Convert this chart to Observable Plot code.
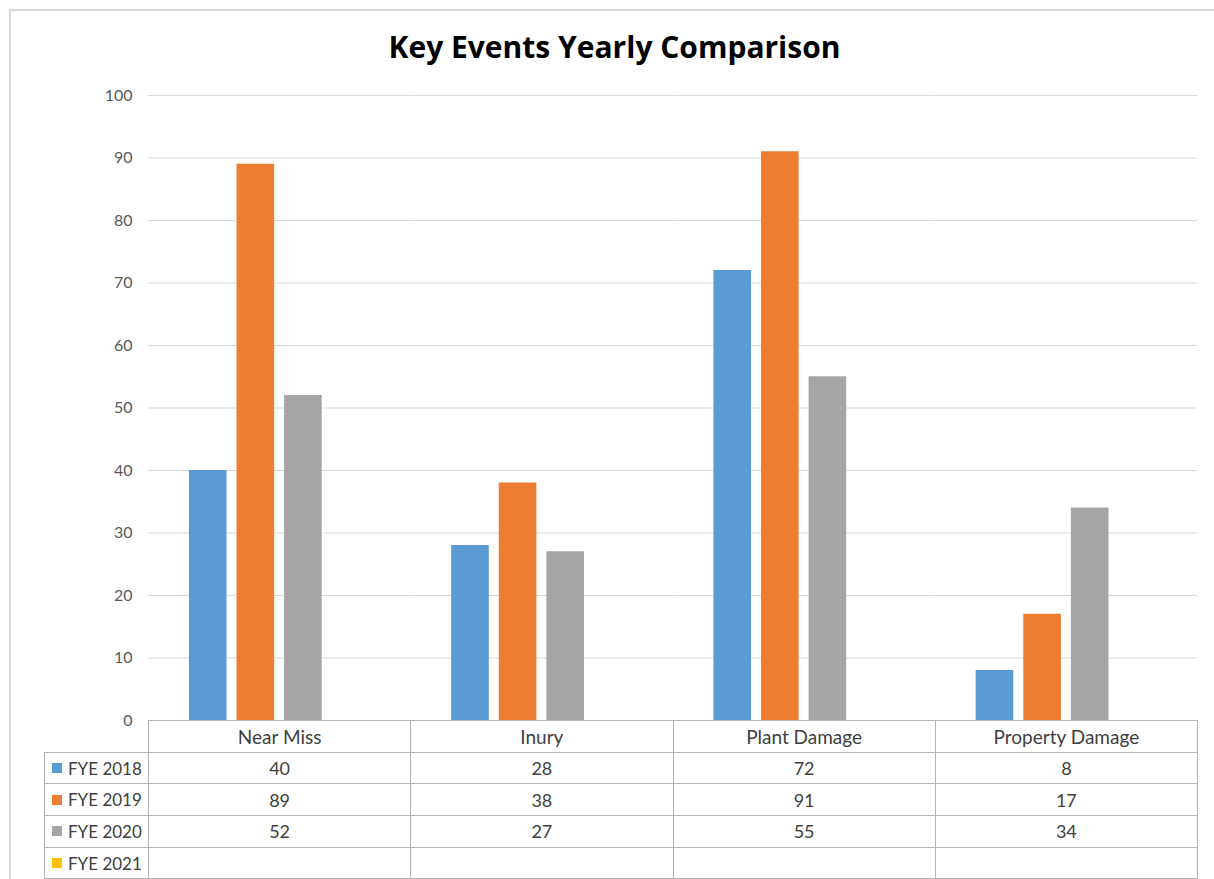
<!DOCTYPE html>
<html>
<head>
<meta charset="utf-8">
<script src="https://cdn.jsdelivr.net/npm/d3@7"></script>
<script src="https://cdn.jsdelivr.net/npm/@observablehq/plot@0.6"></script>
<style>
  html, body { margin:0; padding:0; background:#fff; overflow:hidden; }
  #wrap { position:relative; width:1214px; height:879px; font-family: Lato, "Open Sans", sans-serif; }
  #border { position:absolute; left:9px; top:9px; width:1220px; height:900px; border:2px solid #d9d9d9; box-sizing:border-box; }
  #title { position:absolute; left:0; width:1229px; top:26px; text-align:center; font-family: "Open Sans", Lato, sans-serif; font-weight:700; font-size:30px; color:#000; }
  #chart { position:absolute; left:0; top:0; }
  .cell { position:absolute; box-sizing:border-box; border:1px solid #b4b4b4; font-size:18px; color:#404040; display:flex; align-items:center; justify-content:center; background:transparent; }
  .head { font-size:19px; }
  .lab { justify-content:flex-start; padding-left:7px; font-size:17px; }
  .sw { display:inline-block; width:10px; height:10px; margin-right:6px; }
</style>
</head>
<body>
<div id="wrap">
  <div id="border"></div>
  <div id="chart"></div>
  <div id="title">Key Events Yearly Comparison</div>
  <div id="table"></div>
</div>
<script>
const categories = ["Near Miss", "Inury", "Plant Damage", "Property Damage"];
const series = ["FYE 2018", "FYE 2019", "FYE 2020", "FYE 2021"];
const fye2018 = [40, 28, 72, 8];
const fye2019 = [89, 38, 91, 17];
const fye2020 = [52, 27, 55, 34];
const fye2021 = [null, null, null, null];
const seriesColors = ["#5b9bd5", "#ed7d31", "#a5a5a5", "#ffc000"];
const yTicks = [0, 10, 20, 30, 40, 50, 60, 70, 80, 90, 100];

const seriesValues = [fye2018, fye2019, fye2020, fye2021];
const data = [];
series.forEach((s, i) => categories.forEach((c, j) => {
  data.push({series: s, category: c, value: seriesValues[i][j]});
}));

const W = 1214, H = 879;
const mL = 148, mR = 17, mT = 95, mB = 159;

const plot = Plot.plot({
  width: W, height: H,
  marginLeft: mL, marginRight: mR, marginTop: mT, marginBottom: mB,
  style: {fontFamily: "Lato, 'Open Sans', sans-serif", background: "transparent"},
  fx: {domain: categories, padding: 0, axis: null, round: false},
  x: {domain: series, paddingInner: 0.21, paddingOuter: 0.86, axis: null, round: false},
  y: {domain: [0, 100]},
  color: {domain: series, range: seriesColors},
  marks: [
    Plot.gridY(yTicks, {stroke: "#d9d9d9", strokeOpacity: 1, strokeWidth: 1}),
    Plot.axisY(yTicks, {tickSize: 0, tickPadding: 16, fontSize: 16, color: "#595959", label: null}),
    Plot.barY(data.filter(d => d.value != null), {fx: "category", x: "series", y: "value", fill: "series"})
  ]
});
document.getElementById("chart").appendChild(plot);

// Data table below the plot, aligned with the facet columns
const table = document.getElementById("table");
const colW = (W - mL - mR) / categories.length;
const rowTop = H - mB;
const rowH = 31.7;
const labelLeft = 44;
function cell(x, y, w, h, html, cls) {
  const d = document.createElement("div");
  d.className = "cell" + (cls ? " " + cls : "");
  d.style.left = x + "px"; d.style.top = y + "px";
  d.style.width = (w + 1) + "px"; d.style.height = (h + 1) + "px";
  d.innerHTML = html;
  table.appendChild(d);
}
categories.forEach((c, j) => cell(mL + j * colW, rowTop, colW, rowH, c, "head"));
series.forEach((s, i) => {
  const y = rowTop + (i + 1) * rowH;
  cell(labelLeft, y, mL - labelLeft, rowH, `<span class="sw" style="background:${seriesColors[i]}"></span>${s}`, "lab");
  categories.forEach((c, j) => {
    const v = seriesValues[i][j];
    cell(mL + j * colW, y, colW, rowH, v == null ? "" : String(v));
  });
});
</script>
</body>
</html>
